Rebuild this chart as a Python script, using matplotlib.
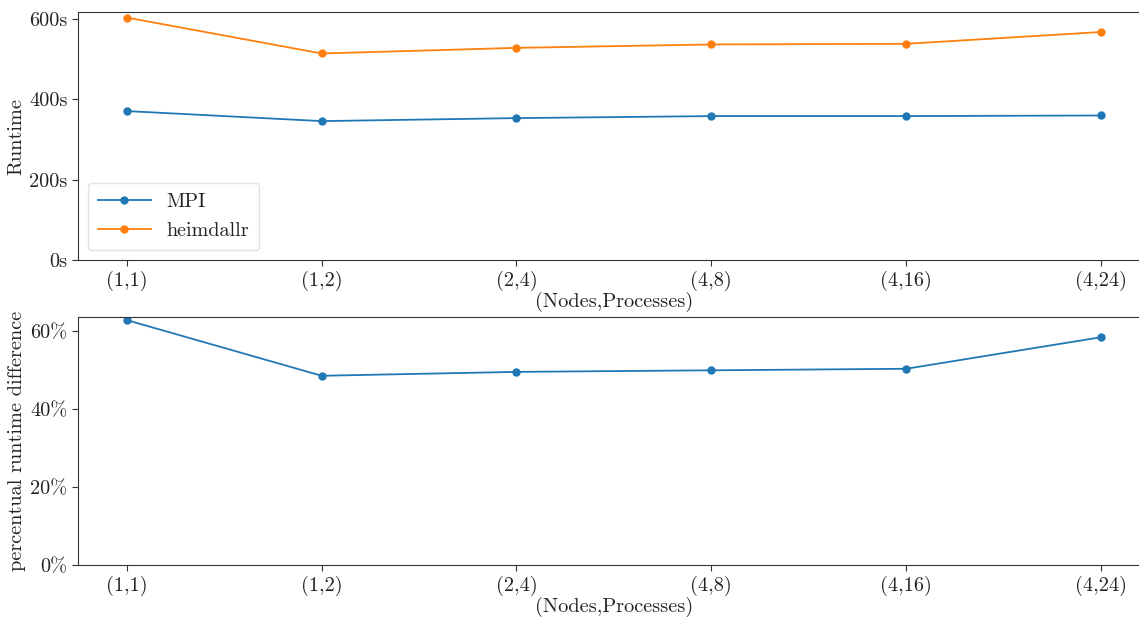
import matplotlib
matplotlib.use("Agg")
import matplotlib.pyplot as plt
from matplotlib.ticker import FuncFormatter

configs = ["(1,1)", "(1,2)", "(2,4)", "(4,8)", "(4,16)", "(4,24)"]
mpi_runtime = [371, 346, 353.5, 358.5, 358.5, 360]
heimdallr_runtime = [604, 514.5, 528.5, 537, 538.6, 568]
runtime_diff_pct = [62.9, 48.6, 49.6, 50.0, 50.4, 58.5]

plt.rcParams["font.family"] = "cmr10"
plt.rcParams["axes.formatter.use_mathtext"] = True
plt.rcParams["font.size"] = 14

text_color = "#222222"
spine_color = "#333333"

fig = plt.figure(figsize=(11.39, 6.19), dpi=100)
ax1 = fig.add_axes([0.0685, 0.580, 0.941, 0.400])
ax2 = fig.add_axes([0.0685, 0.0872, 0.941, 0.4002])

x = list(range(len(configs)))

ax1.plot(x, mpi_runtime, marker="o", markersize=5, lw=1.3, color="#1f77b4", label="MPI")
ax1.plot(x, heimdallr_runtime, marker="o", markersize=5, lw=1.3, color="#ff7f0e", label="heimdallr")
ax1.set_ylim(bottom=0)
ax1.set_yticks([0, 200, 400, 600])
ax1.yaxis.set_major_formatter(FuncFormatter(lambda v, p: f"{int(v)}s"))
ax1.set_ylabel("Runtime", color=text_color, fontsize=14.6, labelpad=3)
ax1.set_xlabel("(Nodes,Processes)", color=text_color, fontsize=14.6, labelpad=1)
leg = ax1.legend(loc="lower left", fontsize=14.5, handlelength=2.6, borderpad=0.5,
                 labelspacing=0.55, framealpha=0.8)
leg.get_frame().set_edgecolor("#dddddd")
for t in leg.get_texts():
    t.set_color(text_color)

ax2.plot(x, runtime_diff_pct, marker="o", markersize=5, lw=1.3, color="#1f77b4")
ax2.set_ylim(bottom=0)
ax2.set_yticks([0, 20, 40, 60])
ax2.yaxis.set_major_formatter(FuncFormatter(lambda v, p: f"{int(v)}%"))
ax2.set_ylabel("percentual runtime difference", color=text_color, fontsize=14.6, labelpad=3)
ax2.set_xlabel("(Nodes,Processes)", color=text_color, fontsize=14.6, labelpad=1)

for ax in (ax1, ax2):
    ax.set_xticks(x)
    ax.set_xticklabels(configs)
    ax.tick_params(colors=text_color, labelsize=14.6, length=4, color=spine_color)
    for s in ax.spines.values():
        s.set_color(spine_color)

fig.savefig("out.png", dpi=100)
